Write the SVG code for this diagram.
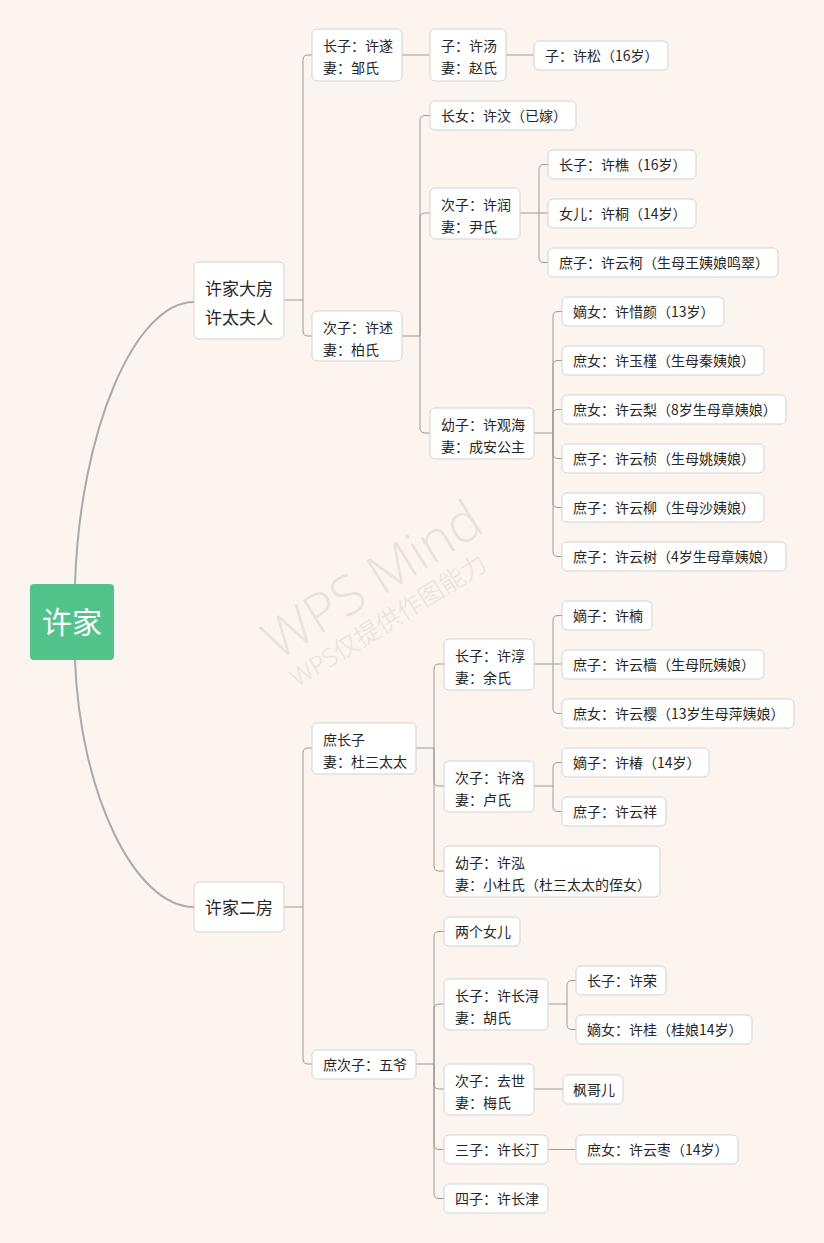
<svg xmlns="http://www.w3.org/2000/svg" width="824" height="1243" viewBox="0 0 824 1243">
<style>
.bg{fill:#fbf4ef}
.n{fill:#ffffff;stroke:#d6d3d0;stroke-width:1}
.t{font-family:"Noto Sans CJK SC","Noto Sans",sans-serif;font-size:14px;fill:#262626}
.tb{font-family:"Noto Sans CJK SC","Noto Sans",sans-serif;font-size:17px;fill:#262626}
.c{fill:none;stroke:#9a9a9a;stroke-width:1}
.main{fill:none;stroke:#aaaaaa;stroke-width:2}
.wm{font-family:"Open Sans","Noto Sans CJK SC",sans-serif;fill:#ebe0da;font-weight:300}
</style>
<rect class="bg" x="0" y="0" width="824" height="1243"/>
<g id="watermark">
<text class="wm" x="382" y="596" font-size="54" text-anchor="middle" transform="rotate(-32 382 596)">WPS Mind</text>
<text class="wm" x="393" y="628" font-size="25" text-anchor="middle" transform="rotate(-32 393 628)">WPS仅提供作图能力</text>
</g>
<g id="connectors">
<path class="main" d="M75,584 C80,430 135,302 194,302"/>
<path class="main" d="M75,660 C80,794 135,907 194,907"/>
<path class="c" d="M284,300 H303 M303,300 V60 Q303,55 308,55 H312 M303,300 V331 Q303,336 308,336 H312"/>
<path class="c" d="M402,55 H430 M506,55 H534"/>
<path class="c" d="M402,336 H420 M420,336 V120.5 Q420,115.5 425,115.5 H430 M420,336 V218 Q420,213 425,213 H430 M420,336 V428 Q420,433 425,433 H430"/>
<path class="c" d="M520,213 H539 M539,213 V169.5 Q539,164.5 544,164.5 H548 M539,213 H548 M539,213 V257.5 Q539,262.5 544,262.5 H548"/>
<path class="c" d="M534,433 H553 M553,433 V316.5 Q553,311.5 558,311.5 H562 M553,433 V365.5 Q553,360.5 558,360.5 H562 M553,433 V414.5 Q553,409.5 558,409.5 H562 M553,433 V453.5 Q553,458.5 558,458.5 H562 M553,433 V502.5 Q553,507.5 558,507.5 H562 M553,433 V551.5 Q553,556.5 558,556.5 H562"/>
<path class="c" d="M284,907 H303 M303,907 V753 Q303,748 308,748 H312 M303,907 V1059 Q303,1064 308,1064 H312"/>
<path class="c" d="M416,748 H434 M434,748 V669 Q434,664 439,664 H444 M434,748 V781 Q434,786 439,786 H444 M434,748 V866 Q434,871 439,871 H444"/>
<path class="c" d="M534,664 H553 M553,664 V620.5 Q553,615.5 558,615.5 H562 M553,664 H562 M553,664 V708.5 Q553,713.5 558,713.5 H562"/>
<path class="c" d="M534,786 H553 M553,786 V767.5 Q553,762.5 558,762.5 H562 M553,786 V806.5 Q553,811.5 558,811.5 H562"/>
<path class="c" d="M416,1064 H434 M434,1064 V936.5 Q434,931.5 439,931.5 H444 M434,1064 V1009 Q434,1004 439,1004 H444 M434,1064 V1084 Q434,1089 439,1089 H444 M434,1064 V1144.5 Q434,1149.5 439,1149.5 H444 M434,1064 V1193.5 Q434,1198.5 439,1198.5 H444"/>
<path class="c" d="M548,1004 H567 M567,1004 V985.5 Q567,980.5 572,980.5 H576 M567,1004 V1024.5 Q567,1029.5 572,1029.5 H576"/>
<path class="c" d="M534,1089 H563 M548,1149.5 H576"/>
</g>
<g id="root"><rect x="30" y="584" width="84" height="76" rx="4" fill="#52c48b"/><text x="72" y="633" text-anchor="middle" font-family="&quot;Noto Sans CJK SC&quot;,sans-serif" font-size="30" fill="#ffffff">许家</text></g>
<g id="n-dafang"><rect class="n" x="194" y="262" width="90" height="77" rx="5"/><text class="tb" x="205" y="295">许家大房</text><text class="tb" x="205" y="324">许太夫人</text></g>
<g id="n-erfang"><rect class="n" x="194" y="882" width="90" height="50" rx="5"/><text class="tb" x="205" y="914">许家二房</text></g>
<g id="n-xusui"><rect class="n" x="312" y="29" width="90" height="52" rx="5"/><text class="t" x="323" y="51">长子：许遂</text><text class="t" x="323" y="73">妻：邹氏</text></g>
<g id="n-xutang"><rect class="n" x="430" y="29" width="76" height="52" rx="5"/><text class="t" x="441" y="51">子：许汤</text><text class="t" x="441" y="73">妻：赵氏</text></g>
<g id="n-xusong"><rect class="n" x="534" y="41" width="134" height="29" rx="5"/><text class="t" x="545" y="61">子：许松（16岁）</text></g>
<g id="n-xushu"><rect class="n" x="312" y="311" width="90" height="50" rx="5"/><text class="t" x="323" y="333">次子：许述</text><text class="t" x="323" y="355">妻：柏氏</text></g>
<g id="n-xuwen"><rect class="n" x="430" y="101" width="146" height="29" rx="5"/><text class="t" x="441" y="121">长女：许汶（已嫁）</text></g>
<g id="n-xurun"><rect class="n" x="430" y="188" width="90" height="51" rx="5"/><text class="t" x="441" y="210">次子：许润</text><text class="t" x="441" y="232">妻：尹氏</text></g>
<g id="n-xuqiao"><rect class="n" x="548" y="150" width="148" height="29" rx="5"/><text class="t" x="559" y="170">长子：许樵（16岁）</text></g>
<g id="n-xutong"><rect class="n" x="548" y="199" width="148" height="29" rx="5"/><text class="t" x="559" y="219">女儿：许桐（14岁）</text></g>
<g id="n-xuyunke"><rect class="n" x="548" y="248" width="230" height="29" rx="5"/><text class="t" x="559" y="268">庶子：许云柯（生母王姨娘鸣翠）</text></g>
<g id="n-xuguanhai"><rect class="n" x="430" y="408" width="104" height="51" rx="5"/><text class="t" x="441" y="430">幼子：许观海</text><text class="t" x="441" y="452">妻：成安公主</text></g>
<g id="n-xuxiyan"><rect class="n" x="562" y="297" width="162" height="29" rx="5"/><text class="t" x="573" y="317">嫡女：许惜颜（13岁）</text></g>
<g id="n-xuyujin"><rect class="n" x="562" y="346" width="202" height="29" rx="5"/><text class="t" x="573" y="366">庶女：许玉槿（生母秦姨娘）</text></g>
<g id="n-xuyunli"><rect class="n" x="562" y="395" width="224" height="29" rx="5"/><text class="t" x="573" y="415">庶女：许云梨（8岁生母章姨娘）</text></g>
<g id="n-xuyunzhen"><rect class="n" x="562" y="444" width="202" height="29" rx="5"/><text class="t" x="573" y="464">庶子：许云桢（生母姚姨娘）</text></g>
<g id="n-xuyunliu"><rect class="n" x="562" y="493" width="202" height="29" rx="5"/><text class="t" x="573" y="513">庶子：许云柳（生母沙姨娘）</text></g>
<g id="n-xuyunshu"><rect class="n" x="562" y="542" width="224" height="29" rx="5"/><text class="t" x="573" y="562">庶子：许云树（4岁生母章姨娘）</text></g>
<g id="n-shuzhangzi"><rect class="n" x="312" y="723" width="104" height="51" rx="5"/><text class="t" x="323" y="745">庶长子</text><text class="t" x="323" y="767">妻：杜三太太</text></g>
<g id="n-xuchun"><rect class="n" x="444" y="639" width="90" height="51" rx="5"/><text class="t" x="455" y="661">长子：许淳</text><text class="t" x="455" y="683">妻：余氏</text></g>
<g id="n-xunan"><rect class="n" x="562" y="601" width="90" height="29" rx="5"/><text class="t" x="573" y="621">嫡子：许楠</text></g>
<g id="n-xuyunqiang"><rect class="n" x="562" y="650" width="202" height="29" rx="5"/><text class="t" x="573" y="670">庶子：许云樯（生母阮姨娘）</text></g>
<g id="n-xuyunying"><rect class="n" x="562" y="699" width="232" height="29" rx="5"/><text class="t" x="573" y="719">庶女：许云樱（13岁生母萍姨娘）</text></g>
<g id="n-xuluo"><rect class="n" x="444" y="761" width="90" height="51" rx="5"/><text class="t" x="455" y="783">次子：许洛</text><text class="t" x="455" y="805">妻：卢氏</text></g>
<g id="n-xuchun2"><rect class="n" x="562" y="748" width="147" height="29" rx="5"/><text class="t" x="573" y="768">嫡子：许椿（14岁）</text></g>
<g id="n-xuyunxiang"><rect class="n" x="562" y="797" width="104" height="29" rx="5"/><text class="t" x="573" y="817">庶子：许云祥</text></g>
<g id="n-xuhong"><rect class="n" x="444" y="846" width="216" height="51" rx="5"/><text class="t" x="455" y="868">幼子：许泓</text><text class="t" x="455" y="890">妻：小杜氏（杜三太太的侄女）</text></g>
<g id="n-wuye"><rect class="n" x="312" y="1050" width="104" height="29" rx="5"/><text class="t" x="323" y="1070">庶次子：五爷</text></g>
<g id="n-liangnv"><rect class="n" x="444" y="917" width="76" height="29" rx="5"/><text class="t" x="455" y="937">两个女儿</text></g>
<g id="n-xuchangxun"><rect class="n" x="444" y="979" width="104" height="51" rx="5"/><text class="t" x="455" y="1001">长子：许长浔</text><text class="t" x="455" y="1023">妻：胡氏</text></g>
<g id="n-xurong"><rect class="n" x="576" y="966" width="90" height="29" rx="5"/><text class="t" x="587" y="986">长子：许荣</text></g>
<g id="n-xugui"><rect class="n" x="576" y="1015" width="176" height="29" rx="5"/><text class="t" x="587" y="1035">嫡女：许桂（桂娘14岁）</text></g>
<g id="n-qushi"><rect class="n" x="444" y="1064" width="90" height="51" rx="5"/><text class="t" x="455" y="1086">次子：去世</text><text class="t" x="455" y="1108">妻：梅氏</text></g>
<g id="n-fenggeer"><rect class="n" x="563" y="1075" width="60" height="29" rx="5"/><text class="t" x="573" y="1095">枫哥儿</text></g>
<g id="n-xuchangting"><rect class="n" x="444" y="1135" width="104" height="29" rx="5"/><text class="t" x="455" y="1155">三子：许长汀</text></g>
<g id="n-xuyunzao"><rect class="n" x="576" y="1135" width="162" height="29" rx="5"/><text class="t" x="587" y="1155">庶女：许云枣（14岁）</text></g>
<g id="n-xuchangjin"><rect class="n" x="444" y="1184" width="104" height="29" rx="5"/><text class="t" x="455" y="1204">四子：许长津</text></g>
</svg>
